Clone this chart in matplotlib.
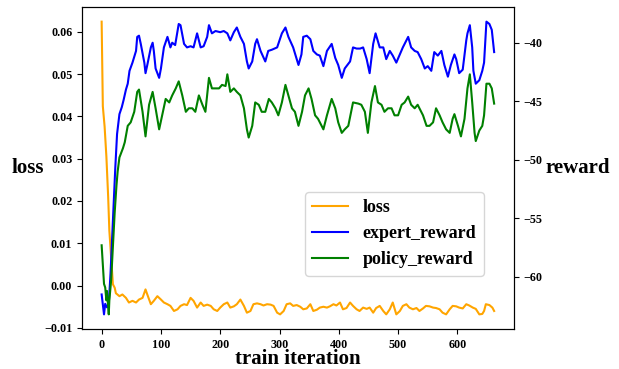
import matplotlib
matplotlib.use('Agg')
import matplotlib.pyplot as plt

plt.rcParams['font.family'] = ['Liberation Serif', 'DejaVu Serif']
plt.rcParams['font.weight'] = 'bold'

# loss (left axis)
loss_iter = [0, 2, 5, 8, 11, 13, 16, 19, 22, 24, 30, 35, 41, 46, 52, 58, 63, 69, 74, 77,
             83, 88, 94, 100, 105, 111, 116, 122, 128, 133, 139, 144, 150, 155, 161, 167,
             172, 178, 184, 189, 195, 200, 206, 212, 217, 223, 228, 234, 240, 245, 251,
             256, 262, 268, 273, 279, 285, 290, 296, 301, 307, 312, 318, 323, 329, 335,
             340, 346, 352, 357, 363, 368, 374, 380, 385, 391, 396, 402, 407, 413, 419,
             424, 430, 435, 441, 447, 452, 458, 463, 469, 475, 480, 486, 491, 497, 503,
             508, 514, 519, 525, 531, 536, 542, 547, 553, 559, 564, 570, 575, 581, 587,
             592, 598, 603, 609, 615, 620, 626, 631, 637, 642, 645, 648, 654, 659, 662]
loss = [0.0624, 0.0424, 0.0376, 0.0305, 0.021, 0.013, 0.0067, 0.0003, -0.0005, -0.0018,
        -0.0025, -0.0021, -0.0029, -0.0040, -0.0036, -0.0040, -0.0033, -0.0029, -0.0009,
        -0.0021, -0.0044, -0.0036, -0.0025, -0.0033, -0.0040, -0.0044, -0.0048, -0.0060,
        -0.0056, -0.0048, -0.0044, -0.0046, -0.0029, -0.0036, -0.0052, -0.0040, -0.0048,
        -0.0045, -0.0048, -0.0056, -0.0060, -0.0052, -0.0044, -0.0040, -0.0052, -0.0049,
        -0.0044, -0.0033, -0.0048, -0.0064, -0.0060, -0.0044, -0.0042, -0.0044, -0.0047,
        -0.0044, -0.0045, -0.0048, -0.0064, -0.0068, -0.0060, -0.0044, -0.0042, -0.0048,
        -0.0046, -0.0050, -0.0056, -0.0054, -0.0044, -0.0060, -0.0057, -0.0052, -0.0050,
        -0.0052, -0.0049, -0.0044, -0.0047, -0.0040, -0.0056, -0.0053, -0.0040, -0.0048,
        -0.0056, -0.0060, -0.0052, -0.0055, -0.0052, -0.0064, -0.0053, -0.0048, -0.0060,
        -0.0068, -0.0056, -0.0040, -0.0068, -0.0060, -0.0048, -0.0044, -0.0052, -0.0056,
        -0.0053, -0.0060, -0.0054, -0.0048, -0.0049, -0.0052, -0.0053, -0.0056, -0.0064,
        -0.0068, -0.0056, -0.0048, -0.0049, -0.0052, -0.0054, -0.0044, -0.0047, -0.0052,
        -0.0055, -0.0068, -0.0067, -0.0060, -0.0044, -0.0046, -0.0052, -0.0060]

# expert reward (right axis)
expert_iter = [0, 4, 6, 9, 12, 15, 19, 23, 26, 30, 34, 37, 41, 44, 47, 52, 58, 60, 63, 66,
               72, 74, 77, 83, 86, 88, 91, 97, 100, 105, 111, 116, 119, 124, 130, 133, 139,
               144, 150, 155, 161, 167, 172, 178, 181, 186, 192, 200, 206, 212, 217, 223,
               228, 234, 240, 245, 248, 254, 259, 262, 268, 276, 281, 287, 296, 304, 310,
               315, 323, 332, 337, 340, 346, 352, 357, 363, 368, 374, 380, 388, 394, 399,
               405, 410, 419, 424, 430, 436, 441, 447, 452, 458, 462, 469, 475, 480, 486,
               491, 497, 503, 508, 514, 517, 522, 528, 533, 539, 545, 550, 556, 561, 567,
               573, 578, 584, 589, 595, 598, 603, 609, 615, 617, 621, 625, 627, 631, 637,
               642, 645, 649, 654, 658, 662]
expert_reward = [-61.5, -63.2, -62.3, -62.6, -62.3, -59.7, -55.1, -50.7, -47.8, -46.1,
                 -45.5, -44.9, -44.0, -43.5, -42.4, -41.7, -40.7, -39.5, -39.4, -40.1,
                 -41.7, -42.6, -41.9, -40.4, -40.0, -40.7, -42.2, -43.0, -42.2, -40.4,
                 -39.5, -40.4, -40.0, -40.2, -38.4, -38.5, -40.1, -40.4, -40.3, -40.4,
                 -39.2, -40.4, -40.3, -39.5, -38.5, -39.2, -39.0, -39.1, -39.0, -39.2,
                 -39.8, -39.1, -38.7, -39.5, -40.1, -41.6, -42.2, -41.6, -40.1, -39.7,
                 -40.7, -41.6, -40.7, -40.6, -40.4, -39.2, -38.7, -39.5, -40.4, -41.9,
                 -41.0, -39.5, -39.4, -39.7, -40.7, -41.0, -41.1, -42.0, -40.7, -40.1,
                 -41.3, -41.9, -43.0, -42.2, -41.6, -40.4, -40.5, -40.5, -40.4, -41.4,
                 -42.6, -40.1, -39.2, -40.4, -40.4, -41.4, -40.7, -41.1, -41.7, -41.0,
                 -40.4, -39.8, -39.5, -40.4, -40.7, -40.8, -41.4, -42.2, -42.0, -42.4,
                 -40.8, -41.1, -40.7, -41.9, -42.9, -41.9, -41.0, -41.4, -42.6, -42.3,
                 -39.8, -39.2, -38.5, -40.4, -42.4, -43.5, -43.2, -42.4, -41.7, -38.2,
                 -38.4, -38.9, -40.8]

# policy reward (right axis)
policy_iter = [0, 4, 6, 8, 9, 12, 13, 16, 19, 22, 25, 27, 30, 33, 36, 39, 44, 49, 55, 60,
               63, 69, 74, 80, 86, 91, 97, 102, 108, 114, 119, 125, 130, 136, 142, 147, 153,
               158, 164, 170, 175, 181, 186, 192, 198, 203, 209, 212, 217, 223, 228, 234,
               240, 245, 248, 254, 259, 265, 270, 276, 282, 287, 293, 298, 304, 310, 315,
               321, 326, 332, 338, 343, 349, 354, 360, 365, 374, 380, 388, 394, 399, 405,
               410, 416, 424, 433, 438, 444, 449, 455, 461, 466, 472, 477, 483, 489, 494,
               500, 506, 511, 517, 522, 528, 533, 542, 548, 553, 559, 564, 570, 575, 581,
               587, 592, 595, 601, 606, 612, 617, 621, 625, 629, 631, 637, 642, 645, 649,
               654, 658, 662]
policy_reward = [-57.3, -60.6, -60.9, -62.0, -61.2, -63.2, -62.0, -60.3, -57.4, -54.5,
                 -52.2, -51.0, -49.8, -49.4, -49.0, -48.5, -47.1, -46.8, -45.9, -44.2,
                 -44.0, -45.9, -48.0, -45.3, -44.2, -45.6, -47.4, -46.2, -44.8, -45.1,
                 -44.5, -43.9, -43.3, -44.5, -45.9, -45.6, -45.6, -45.9, -44.5, -45.3,
                 -45.9, -43.0, -43.9, -43.9, -43.9, -43.6, -43.7, -42.7, -44.2, -43.9,
                 -44.2, -44.5, -45.6, -47.4, -48.1, -47.1, -45.1, -45.3, -45.9, -45.9,
                 -44.8, -45.1, -45.6, -46.2, -45.1, -43.6, -44.5, -45.6, -45.9, -47.1,
                 -45.9, -44.5, -43.9, -44.8, -46.2, -46.5, -47.4, -46.2, -44.8, -45.6,
                 -46.8, -47.7, -47.4, -47.1, -45.1, -45.2, -45.3, -45.9, -47.7, -45.1,
                 -43.7, -45.1, -45.3, -45.9, -45.6, -45.6, -46.2, -46.2, -45.3, -45.1,
                 -44.6, -45.3, -45.6, -45.3, -46.2, -47.1, -47.1, -46.8, -45.6, -46.2,
                 -46.8, -47.4, -47.7, -46.5, -46.1, -47.1, -48.0, -46.5, -43.9, -42.7,
                 -45.1, -47.7, -48.4, -47.5, -47.1, -46.2, -43.5, -43.5, -43.9, -45.2]

fig = plt.figure(figsize=(6.19, 3.69), dpi=100)
ax = fig.add_axes([0.1325, 0.1084, 0.6975, 0.8726])
ax2 = ax.twinx()

l1, = ax.plot(loss_iter, loss, color='orange', lw=1.5, label='loss')
l2, = ax2.plot(expert_iter, expert_reward, color='blue', lw=1.5, label='expert_reward')
l3, = ax2.plot(policy_iter, policy_reward, color='green', lw=1.5, label='policy_reward')

ax.set_xticks([0, 100, 200, 300, 400, 500, 600])
ax.set_yticks([-0.01, 0.0, 0.01, 0.02, 0.03, 0.04, 0.05, 0.06])
ax2.set_yticks([-60, -55, -50, -45, -40])
for a in (ax, ax2):
    a.tick_params(labelsize=8.7)
    for t in a.get_xticklabels() + a.get_yticklabels():
        t.set_fontweight('bold')

ax.set_xlabel('train iteration', fontsize=15, fontweight='bold', labelpad=-1)
ax.set_ylabel('loss', fontsize=15, fontweight='bold', rotation=0, ha='center', va='center')
ax.yaxis.set_label_coords(-0.125, 0.5)
ax2.set_ylabel('reward', fontsize=15, fontweight='bold', rotation=0, ha='center', va='center')
ax2.yaxis.set_label_coords(1.148, 0.5)

ax2.legend([l1, l2, l3], ['loss', 'expert_reward', 'policy_reward'],
           loc='upper right', bbox_to_anchor=(0.93, 0.425), borderaxespad=0,
           prop={'size': 13, 'weight': 'bold'})

fig.savefig('out.png', dpi=100)
